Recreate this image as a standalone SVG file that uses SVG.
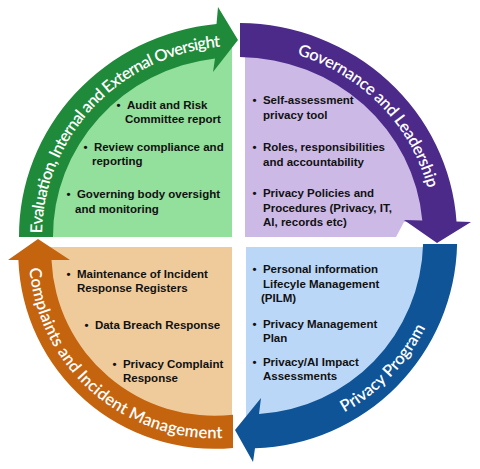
<svg xmlns="http://www.w3.org/2000/svg" xmlns:xlink="http://www.w3.org/1999/xlink" width="480" height="469" viewBox="0 0 480 469">
<defs>
<style>
.b{font-family:"Liberation Sans",Arial,sans-serif;font-weight:bold;font-size:11.5px;fill:#111}
.t{font-family:Lato,"Open Sans",sans-serif;font-weight:600;font-size:16.5px;fill:#fff}
</style>
<path id="pG" d="M42,233.35 A196 190 0 0 1 220.24,46.78"/>
<path id="pP" d="M296.94,54.79 A196 190 0 0 1 428.01,189.39"/>
<path id="pO" d="M29.45,268.32 A185.5 185.5 0 0 0 224.82,438"/>
<path id="pB" d="M344.32,412.51 A198 198 0 0 0 425.63,327.28"/>
</defs>
<rect width="480" height="469" fill="#fff"/>

<g id="node-oversight">
<path d="M232,237 L36,237 A202 196 0 0 1 232,40 Z" fill="#93DF9C"/>
<text class="b" x="116.5" y="109">•&#160;&#160;Audit and Risk<tspan x="125" dy="14">Committee report</tspan></text>
<text class="b" x="83.5" y="151">•&#160;&#160;Review compliance and<tspan x="92" dy="14">reporting</tspan></text>
<text class="b" x="66.5" y="198">•&#160;&#160;Governing body oversight<tspan x="75" dy="15">and monitoring</tspan></text>
</g>

<g id="node-governance">
<path d="M245,237 L245,40 A202 196 0 0 1 439.5,222 L404,222 L396,237 Z" fill="#CCB9E5"/>
<text class="b" x="252.5" y="104">•&#160;&#160;Self-assessment<tspan x="263" dy="15">privacy tool</tspan></text>
<text class="b" x="252.5" y="151">•&#160;&#160;Roles, responsibilities<tspan x="263" dy="15">and accountability</tspan></text>
<text class="b" x="252.5" y="197">•&#160;&#160;Privacy Policies and<tspan x="263" dy="15">Procedures (Privacy, IT,</tspan><tspan x="263" dy="14">AI, records etc)</tspan></text>
</g>

<g id="node-program">
<path d="M246,247 L440,247 A192 192 0 0 1 246,431.4 Z" fill="#BBD7F8"/>
<text class="b" x="252.5" y="273">•&#160;&#160;Personal information<tspan x="263" dy="15">Lifecyle Management</tspan><tspan x="261" dy="14">(PILM)</tspan></text>
<text class="b" x="252.5" y="328">•&#160;&#160;Privacy Management<tspan x="263" dy="13.5">Plan</tspan></text>
<text class="b" x="252.5" y="366">•&#160;&#160;Privacy/AI Impact<tspan x="263" dy="14">Assessments</tspan></text>
</g>

<g id="node-complaints">
<path d="M232,247 L34.4,247 A180 180 0 0 0 232,431.9 Z" fill="#EFCB9C"/>
<text class="b" x="66.5" y="278">•&#160;&#160;Maintenance of Incident<tspan x="77" dy="14">Response Registers</tspan></text>
<text class="b" x="84.5" y="329">•&#160;&#160;Data Breach Response</text>
<text class="b" x="112.5" y="368">•&#160;&#160;Privacy Complaint<tspan x="123" dy="14">Response</tspan></text>
</g>

<g id="connectors">
<path d="M53,237 L19,237 A219 213 0 0 1 216.5,24 L218,7 L238,40 L213,72 L215,58.4 A185 179 0 0 0 53,237 Z" fill="#1F8A3A"/>
<path d="M240,57 L240,23 A219 213 0 0 1 456.5,221.5 L471,222 L437,243 L404,220 L422.3,220.5 A185 179 0 0 0 240,57 Z" fill="#4B2A8A"/>
<path d="M423.1,244 L457.1,244 A209 209 0 0 1 255,448.3 L253,462 L235,430 L261,398 L259,414.1 A175 175 0 0 0 423.1,244 Z" fill="#0E5496"/>
<path d="M233,414.7 L233,447.9 A196 196 0 0 1 18.4,260 L8,260 L38,239 L70,260 L51.5,260 A163 163 0 0 0 233,414.7 Z" fill="#C5640F"/>
<text class="t"><textPath xlink:href="#pG" href="#pG" textLength="283" lengthAdjust="spacing">Evaluation, Internal and External Oversight</textPath></text>
<text class="t"><textPath xlink:href="#pP" href="#pP" textLength="195" lengthAdjust="spacing">Governance and Leadership</textPath></text>
<text class="t"><textPath xlink:href="#pO" href="#pO" textLength="284" lengthAdjust="spacing">Complaints and Incident Management</textPath></text>
<text class="t"><textPath xlink:href="#pB" href="#pB" textLength="119" lengthAdjust="spacing">Privacy Program</textPath></text>
</g>
</svg>
